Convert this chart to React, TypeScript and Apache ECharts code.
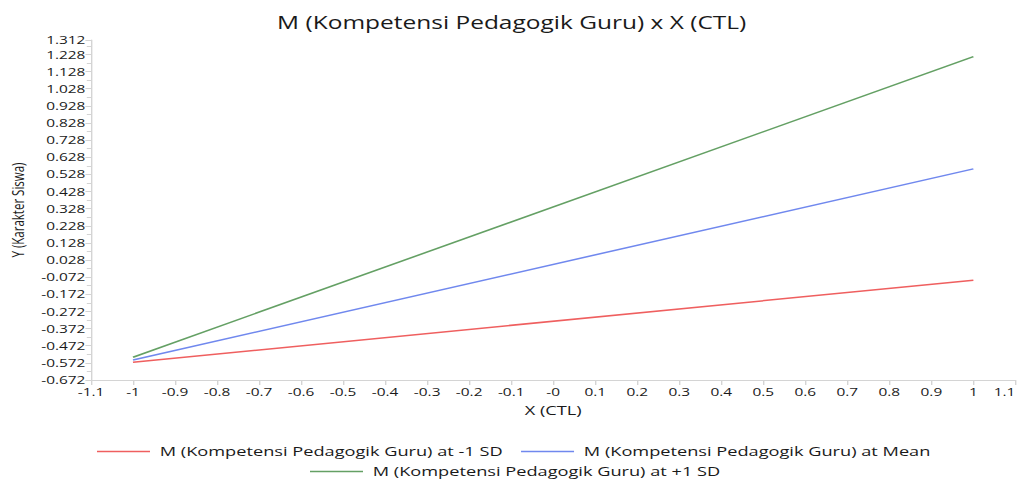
import React, { useEffect, useRef } from "react";
import * as echarts from "echarts";

const chartTitle = "M (Kompetensi Pedagogik Guru) x X (CTL)";
const xAxisName = "X (CTL)";
const yAxisName = "Y (Karakter Siswa)";
const seriesNames = [
  "M (Kompetensi Pedagogik Guru) at -1 SD",
  "M (Kompetensi Pedagogik Guru) at Mean",
  "M (Kompetensi Pedagogik Guru) at +1 SD",
];
const seriesColors = ["#ef5f5f", "#7088ee", "#64a064"];
const xValues = [-1, 1];
const lowSD = [-0.568, -0.09];
const meanVals = [-0.555, 0.56];
const highSD = [-0.539, 1.215];
const yMin = -0.672;
const yMax = 1.312;
const yStep = 0.1;
const xMin = -1.1;
const xMax = 1.1;
const xStep = 0.1;

const FONT = "Open Sans";
// the reference picture is stretched horizontally; reproduce by scaling the chart in x
const STRETCH = 1.4;
const PAGE_W = 1024;
const PAGE_H = 481;
const INNER_W = PAGE_W / STRETCH;

export default function App() {
  const ref = useRef<HTMLDivElement>(null);
  useEffect(() => {
    document.body.style.margin = "0";
    const chart = echarts.init(ref.current!, null, { renderer: "svg" });
    const allSeries = [lowSD, meanVals, highSD];
    const axisLineColor = "#d4d4d4";
    const px = (v: number) => v / STRETCH;
    const legendText = { fontFamily: FONT, fontSize: 13, color: "#1a1a1a", padding: [0, 0, 0, 2] };
    chart.setOption({
      animation: false,
      backgroundColor: "#ffffff",
      title: {
        text: chartTitle,
        left: "center",
        top: 8,
        textStyle: { fontFamily: FONT, fontSize: 17.5, fontWeight: "normal", color: "#1a1a1a" },
      },
      grid: { left: px(91), right: px(8), top: 40, bottom: 101, outerBoundsMode: "none", containLabel: false },
      legend: [
        {
          data: [seriesNames[0], seriesNames[1]],
          left: px(90),
          top: 440,
          icon: "rect",
          itemWidth: px(53),
          itemHeight: 1.5,
          itemGap: px(18),
          textStyle: legendText,
        },
        {
          data: [seriesNames[2]],
          left: px(303),
          top: 460,
          icon: "rect",
          itemWidth: px(53),
          itemHeight: 1.5,
          textStyle: legendText,
        },
      ],
      xAxis: {
        type: "value",
        min: xMin,
        max: xMax,
        interval: xStep,
        name: xAxisName,
        nameLocation: "middle",
        nameGap: 24,
        nameTextStyle: { fontFamily: FONT, fontSize: 13, color: "#1a1a1a" },
        axisLine: { show: true, onZero: false, lineStyle: { color: axisLineColor } },
        axisTick: { show: true, length: 5, lineStyle: { color: axisLineColor } },
        splitLine: { show: false },
        axisLabel: {
          fontFamily: FONT,
          fontSize: 11,
          color: "#1a1a1a",
          margin: 6,
          alignMaxLabel: "right",
          formatter: (v: number) => {
            const r = Math.round(v * 10) / 10;
            return r === 0 ? "-0" : String(r);
          },
        },
      },
      yAxis: {
        type: "value",
        min: 0,
        max: +(yMax - yMin).toFixed(3),
        interval: yStep,
        name: yAxisName,
        nameLocation: "middle",
        nameGap: 44,
        nameTextStyle: { fontFamily: FONT, fontSize: 11.5, color: "#1a1a1a" },
        axisLine: { show: true, onZero: false, lineStyle: { color: axisLineColor } },
        axisTick: { show: true, length: 4, lineStyle: { color: axisLineColor } },
        minorTick: { show: true, splitNumber: 2, length: 3, lineStyle: { color: axisLineColor } },
        splitLine: { show: false },
        axisLabel: {
          fontFamily: FONT,
          fontSize: 11,
          color: "#1a1a1a",
          margin: 4,
          formatter: (v: number) => (v + yMin).toFixed(3),
        },
      },
      series: allSeries.map((vals, i) => ({
        name: seriesNames[i],
        type: "line",
        symbol: "none",
        color: seriesColors[i],
        lineStyle: { width: 1.5, color: seriesColors[i] },
        data: xValues.map((x, j) => [x, +(vals[j] - yMin).toFixed(4)]),
      })),
    });
    return () => chart.dispose();
  }, []);
  return (
    <div style={{ width: PAGE_W, height: PAGE_H, overflow: "hidden", background: "#fff" }}>
      <div
        ref={ref}
        style={{
          width: INNER_W,
          height: PAGE_H,
          transform: `scaleX(${STRETCH})`,
          transformOrigin: "0 0",
        }}
      />
    </div>
  );
}
